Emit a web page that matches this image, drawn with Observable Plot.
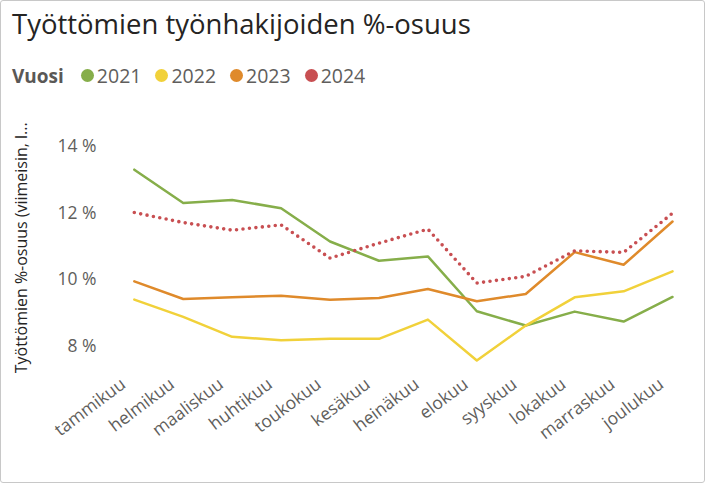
<!DOCTYPE html>
<html>
<head>
<meta charset="utf-8">
<script src="https://cdn.jsdelivr.net/npm/d3@7"></script>
<script src="https://cdn.jsdelivr.net/npm/@observablehq/plot@0.6"></script>
<style>
  html, body { margin: 0; padding: 0; background: #fff; }
  #wrap { position: relative; width: 703px; height: 481px; border: 1px solid #c8c8c8; border-radius: 3px; font-family: "Open Sans", sans-serif; overflow: hidden; }
  #title { position: absolute; left: 11px; top: 4px; font-size: 27.5px; color: #252423; white-space: nowrap; }
  #legend { position: absolute; left: 11px; top: 61px; font-size: 19.5px; color: #605e5c; display: flex; align-items: center; white-space: nowrap; }
  #legend .lab { font-weight: bold; margin-right: 17px; color: #5a5856; font-size: 19px; }
  #legend .item { display: flex; align-items: center; margin-right: 14px; }
  #legend .dot { width: 13px; height: 13px; border-radius: 50%; margin-right: 3px; }
  #chart { position: absolute; left: -1px; top: 99px; }
</style>
</head>
<body>
<div id="wrap">
  <div id="title">Työttömien työnhakijoiden %-osuus</div>
  <div id="legend"></div>
  <div id="chart"></div>
</div>
<script>
const months = ["tammikuu","helmikuu","maaliskuu","huhtikuu","toukokuu","kesäkuu","heinäkuu","elokuu","syyskuu","lokakuu","marraskuu","joulukuu"];
const years = ["2021","2022","2023","2024"];
const colors = ["#86AE4A","#F1D13A","#DF8A2B","#C84F52"];
const v2021 = [13.31,12.31,12.40,12.15,11.15,10.57,10.70,9.05,8.62,9.04,8.74,9.48];
const v2022 = [9.40,8.88,8.28,8.18,8.22,8.22,8.80,7.57,8.62,9.47,9.65,10.25];
const v2023 = [9.95,9.42,9.47,9.52,9.40,9.45,9.72,9.35,9.57,10.83,10.45,11.75];
const v2024 = [12.02,11.72,11.49,11.65,10.65,11.10,11.52,9.90,10.10,10.87,10.82,12.00];
const yTicks = [8,10,12,14];
const yLabel = "Työttömien %-osuus (viimeisin, l...";

const series = [v2021, v2022, v2023, v2024];
const rows = [];
series.forEach((vals, i) => vals.forEach((v, j) => rows.push({year: years[i], month: months[j], value: v})));

// legend
const leg = document.getElementById("legend");
const l0 = document.createElement("span"); l0.className = "lab"; l0.textContent = "Vuosi"; leg.appendChild(l0);
years.forEach((y, i) => {
  const it = document.createElement("span"); it.className = "item";
  const d = document.createElement("span"); d.className = "dot"; d.style.background = colors[i];
  const t = document.createElement("span"); t.textContent = y;
  it.appendChild(d); it.appendChild(t); leg.appendChild(it);
});

const solid = rows.filter(r => r.year !== "2024");
const dotted = rows.filter(r => r.year === "2024");

const chart = Plot.plot({
  width: 705,
  height: 382,
  marginLeft: 129,
  marginRight: 27,
  marginTop: 33,
  marginBottom: 116,
  style: { fontFamily: "Open Sans, sans-serif", fontSize: "17px", color: "#605e5c", background: "transparent", overflow: "visible" },
  x: { type: "point", domain: months, padding: 0, label: null },
  y: { domain: [7.4, 14.4], label: null },
  color: { domain: years, range: colors },
  marks: [
    Plot.axisX({ tickSize: 0, tickRotate: -37, tickPadding: 16, dx: -11, fontSize: 17.5, fill: "#605e5c" }),
    Plot.axisY({ ticks: yTicks, tickFormat: d => d + " %", tickSize: 0, tickPadding: 33, fontSize: 17.5, fill: "#605e5c" }),
    Plot.line(solid, { x: "month", y: "value", z: "year", stroke: "year", strokeWidth: 2.5 }),
    Plot.line(dotted, { x: "month", y: "value", z: "year", stroke: "year", strokeWidth: 3.6, strokeDasharray: "0,6.5", strokeLinecap: "round" }),
    Plot.text([yLabel], { frameAnchor: "left", rotate: -90, dx: -108, dy: -2, text: d => d, fill: "#252423", fontSize: 16, textAnchor: "middle" })
  ]
});
document.getElementById("chart").appendChild(chart);
</script>
</body>
</html>
